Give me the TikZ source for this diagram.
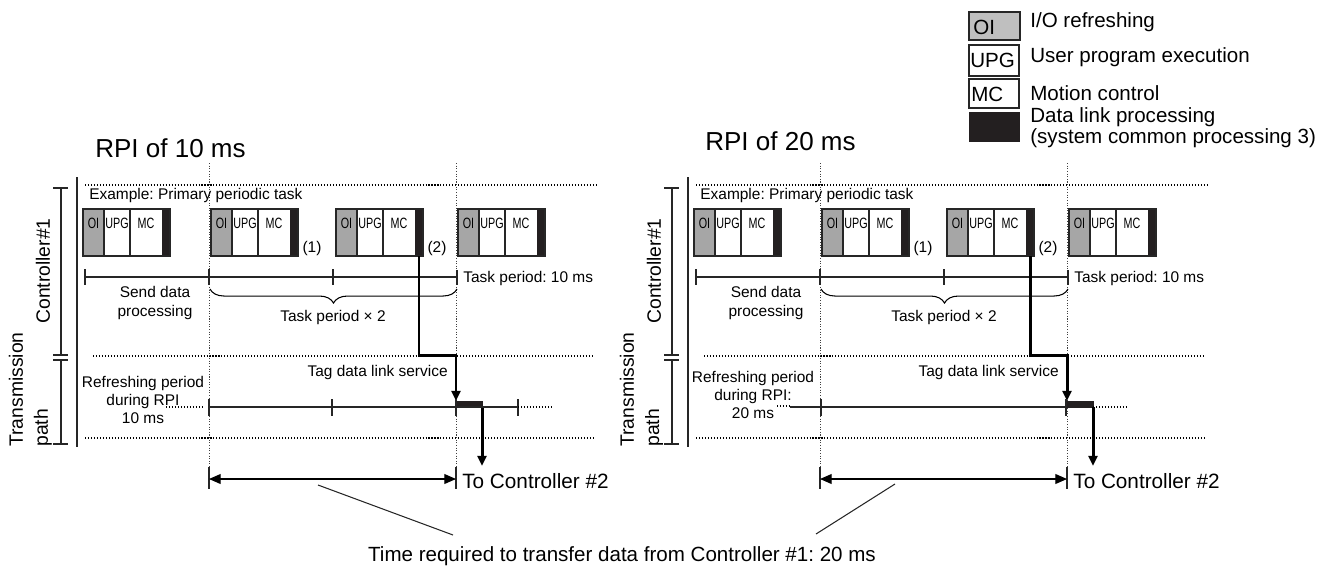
\documentclass[tikz,border=0pt]{standalone}
\usepackage{fontspec}
\setmainfont{Liberation Sans}
\newfontfamily\narrowfont[FakeStretch=0.72]{Liberation Sans}
\usetikzlibrary{arrows.meta,calc,positioning,decorations.pathreplacing}
\frenchspacing

\definecolor{oigray}{gray}{0.65}
\definecolor{keygray}{gray}{0.75}
\definecolor{dlblack}{HTML}{231F20}

\tikzset{
  edge/.style={line width=0.6pt, draw=black!85},
  dotrule/.style={line width=0.6pt, dash pattern=on 0.6pt off 1.1pt},
  guide/.style={line width=0.4pt, dash pattern=on 0.6pt off 0.9pt, black!75},
  flow/.style={line width=1.7pt, -{Triangle[length=5.7pt,width=5pt]}},
  span/.style={line width=0.6pt, {Triangle[length=6.6pt,width=5.6pt]}-{Triangle[length=6.6pt,width=5.6pt]}},
  note/.style={font=\fontsize{8.8}{10.5}\selectfont, inner sep=0pt},
  boxlabel/.style={font=\narrowfont\fontsize{8.5}{9}\selectfont, inner sep=0pt, anchor=base},
  keylabel/.style={font=\fontsize{11.7}{10}\selectfont, inner sep=0pt, anchor=west},
  axislabel/.style={font=\fontsize{11}{12}\selectfont, inner sep=0pt, rotate=90},
  title/.style={font=\fontsize{14.8}{16}\selectfont, inner sep=0pt, anchor=west},
  big/.style={font=\fontsize{11.8}{13}\selectfont, inner sep=0pt},
}

% one task block: #1 = left edge, #2 = name
\newcommand{\taskblock}[2]{%
  \fill[oigray] (#1,209) rectangle (#1+21,256);
  \fill[dlblack] (#1+79,209) rectangle (#1+87,256);
  \draw[edge] (#1,209) rectangle (#1+87,256) (#1+21,209) -- (#1+21,256) (#1+47,209) -- (#1+47,256);
  \node[boxlabel] (#2-oi) at (#1+10.5,228) {OI};
  \node[boxlabel] (#2-upg) at (#1+34,228) {UPG};
  \node[boxlabel] (#2-mc) at (#1+63,228) {MC};
}

\begin{document}
\begin{tikzpicture}[x=0.02cm,y=-0.02cm]
  \useasboundingbox (0,0) rectangle (1335,565);

  % legend
  \fill[keygray] (969,12) rectangle (1020,40);
  \draw[edge] (969,12) rectangle (1020,40) (969,45) rectangle (1019,76) (969,79) rectangle (1019,108);
  \fill[dlblack] (969,112) rectangle (1020,142);
  \node[keylabel] (key-oi) at (973,27) {OI};
  \node[keylabel] (key-upg) at (970,60) {UPG};
  \node[keylabel] (key-mc) at (971,94) {MC};
  \node[keylabel] (key-oi-text) at (1030,22) {I/O refreshing};
  \node[keylabel] (key-upg-text) at (1030,57) {User program execution};
  \node[keylabel] (key-mc-text) at (1030,93) {Motion control};
  \node[keylabel, align=left] (key-dl-text) at (1030,128) {Data link processing\\(system common processing 3)};

  \node[title] (title-L) at (95,148) {RPI of 10 ms};
  \node[title] (title-R) at (705,141) {RPI of 20 ms};

  \foreach \dx/\pn in {0/L,611/R}{
  \begin{scope}[xshift=\dx*0.02cm]
    \draw[edge] (77,177) -- (77,447);
    \draw[edge] (53,188) -- (68,188) (61,188) -- (61,355) (53,355) -- (68,355)
      (53,360) -- (68,360) (61,360) -- (61,444) (53,444) -- (68,444);
    \node[axislabel] (\pn-ctrl) at (43,271) {Controller\#1};
    \node[axislabel, anchor=west] (\pn-trans) at (16,447) {Transmission};
    \node[axislabel, anchor=west] (\pn-path) at (43,447) {path};

    \draw[dotrule] (85,185) -- (598,185) (93,356) -- (594,356) (85,438) -- (594,438);
    \draw[guide] (209,163) -- (209,467) (456,163) -- (456,467);
    \node[note, anchor=west] (\pn-example) at (89,195) {Example: Primary periodic task};

    \foreach \bx/\bn in {83/a,211/b,336/c,458/d} {\taskblock{\bx}{\pn-\bn}}
    \node[note] (\pn-one) at (312,248) {(1)};
    \node[note] (\pn-two) at (437,248) {(2)};

    \draw[edge] (85,277) -- (457,277);
    \foreach \tx in {85,209,333} {\draw[edge] (\tx,269) -- (\tx,285);}
    \draw[edge] (457,270) -- (457,285);
    \node[note, anchor=west] (\pn-period) at (463,278) {Task period: 10 ms};
    \draw[line width=0.6pt, decorate, decoration={brace, mirror, amplitude=8pt}] (210,289) -- (457,289);
    \node[note] (\pn-twice) at (333,317) {Task period × 2};
    \node[note, align=center] (\pn-send) at (155,303) {Send data\\processing};

    \coordinate (\pn-out) at (419,256);
    \coordinate (\pn-tag) at (456,401);
    \draw[flow] (\pn-out) -- (419,355) -- (456,355) -- (\pn-tag);
    \node[note, anchor=east] (\pn-service) at (448,372) {Tag data link service};
    \fill[dlblack] (456,401) rectangle (483,408);
    \coordinate (\pn-bar) at (482,407);
    \coordinate (\pn-dest) at (482,466);
    \draw[flow] (\pn-bar) -- (\pn-dest);

    \coordinate (\pn-from) at (209,479);
    \coordinate (\pn-to) at (456,479);
    \draw[edge] (209,467) -- (209,489) (456,467) -- (456,489);
    \draw[span] (\pn-from) -- (\pn-to);
    \node[big, anchor=west] (\pn-dest-text) at (462,481) {To Controller \#2};
  \end{scope}
  }

  % transmission path, RPI 10 ms
  \draw[edge] (209,407) -- (518,407);
  \foreach \tx in {209,332,456,518} {\draw[edge] (\tx,399) -- (\tx,416);}
  \draw[dotrule] (166,407) -- (203,407) (518,407) -- (552,407);
  \node[note, align=center] (L-refresh) at (143,400) {Refreshing period\\during RPI\\10 ms};

  % transmission path, RPI 20 ms
  \draw[edge] (790,407) -- (1066,407);
  \draw[edge] (821,399) -- (821,416) (1066,399) -- (1066,416);
  \draw[dotrule] (777,406) -- (790,406) (1093,407) -- (1128,407);
  \node[note, align=center] (R-refresh) at (753,395) {Refreshing period\\during RPI:\\20 ms};

  \node[big, anchor=base, font=\fontsize{11.7}{13}\selectfont] (transfer) at (622,561) {Time required to transfer data from Controller \#1: 20 ms};
  \coordinate (L-lead) at (318,485);
  \coordinate (R-lead) at (895,484);
  \coordinate (L-foot) at (453,535);
  \coordinate (R-foot) at (816,534);
  \draw[edge] (L-lead) -- (L-foot) (R-lead) -- (R-foot);
\end{tikzpicture}
\end{document}
